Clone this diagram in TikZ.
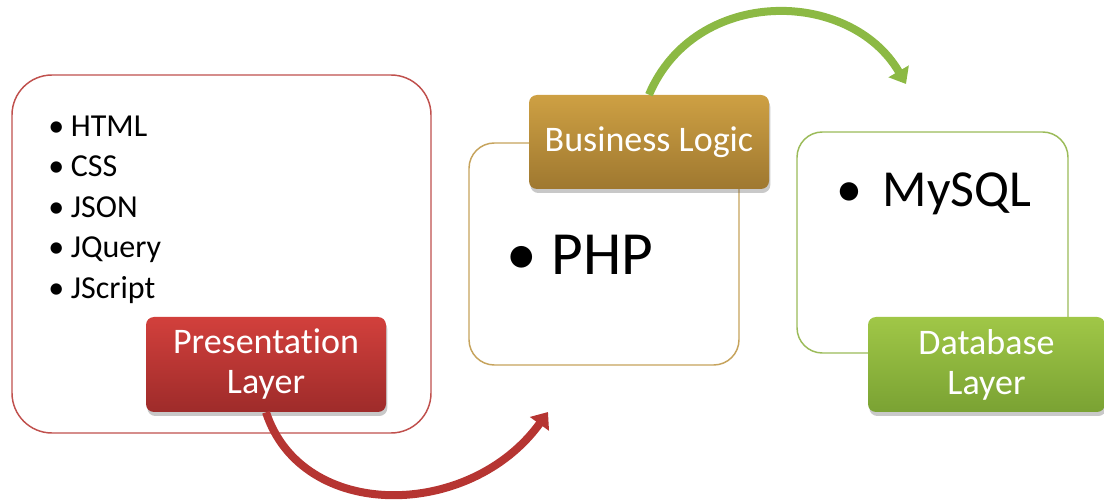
\documentclass[tikz,border=0pt]{standalone}
\usepackage{fontspec}
\setmainfont{Carlito}[Ligatures={NoCommon,NoRequired}]
\usetikzlibrary{arrows.meta,shadows}
\definecolor{redline}{HTML}{C0504D}
\definecolor{tanline}{HTML}{C6A35C}
\definecolor{greenline}{HTML}{9BBB59}
\definecolor{redtop}{HTML}{D2403C}
\definecolor{redbot}{HTML}{9E2B2A}
\definecolor{goldtop}{HTML}{CEA043}
\definecolor{goldbot}{HTML}{9F7830}
\definecolor{greentop}{HTML}{A0C747}
\definecolor{greenbot}{HTML}{7AA233}
\definecolor{redarrow}{HTML}{B63532}
\definecolor{greenarrow}{HTML}{8CB944}
\begin{document}
\begin{tikzpicture}[x=0.75pt,y=-0.75pt,
  outerbox/.style={draw, line width=1.1pt, fill=white, inner sep=0pt},
  labelbox/.style={rounded corners=6pt, text=white, align=center, inner sep=0pt,
    font=\fontsize{27}{30}\selectfont,
    drop shadow={shadow xshift=1pt, shadow yshift=-3pt, opacity=0.3, fill=black!70}},
  item/.style={anchor=base west, inner sep=0pt, font=\fontsize{24}{28}\selectfont},
  bigitem/.style={anchor=base west, inner sep=0pt},
  flowarrow/.style={line width=6pt, -{Triangle[length=11pt,width=17pt]}}
]
\useasboundingbox (0,0) rectangle (1104,502);

% outer boxes
\node[outerbox, draw=redline, rounded corners=30pt, minimum width=314.25pt, minimum height=268.5pt] (rb) at (221.5,254) {};
\node[outerbox, draw=tanline, rounded corners=19pt, minimum width=202.5pt, minimum height=166.5pt] (tb) at (604,254) {};
\node[outerbox, draw=greenline, rounded corners=19pt, minimum width=203.25pt, minimum height=165.75pt] (gb) at (932.5,242.5) {};

% list items
\node[item] (i1) at (48,137) {\makebox[17pt][l]{•}HTML};
\node[item] (i2) at (48,177) {\makebox[17pt][l]{•}CSS};
\node[item] (i3) at (48,218) {\makebox[17pt][l]{•}JSON};
\node[item] (i4) at (48,258) {\makebox[17pt][l]{•}JQuery};
\node[item] (i5) at (48,299) {\makebox[17pt][l]{•}JScript};

\node[bigitem, font=\fontsize{46}{50}\selectfont] (php) at (506,275) {\makebox[34pt][l]{•}PHP};
\node[bigitem, font=\fontsize{39}{44}\selectfont] (sql) at (836,207) {\makebox[35pt][l]{•}MySQL};

% labels
\node[labelbox, top color=redtop, bottom color=redbot, minimum width=180pt, minimum height=71.25pt] (pl) at (266,364.5) {Presentation\\Layer};
\node[labelbox, top color=goldtop, bottom color=goldbot, minimum width=180pt, minimum height=70.5pt] (bl) at (649,142) {Business Logic};
\node[labelbox, top color=greentop, bottom color=greenbot, minimum width=177.75pt, minimum height=71.25pt] (dl) at (986.5,364.5) {Database\\Layer};

% arrow end points
\coordinate (rtip) at (548,412);
\coordinate (gtip) at (906,84);

% arrows
\draw[flowarrow, draw=redarrow] (pl.south) .. controls (302,522) and (470,520) .. (rtip);
\draw[flowarrow, draw=greenarrow] (bl.north) .. controls (695,-14) and (850,-12) .. (gtip);
\end{tikzpicture}
\end{document}
